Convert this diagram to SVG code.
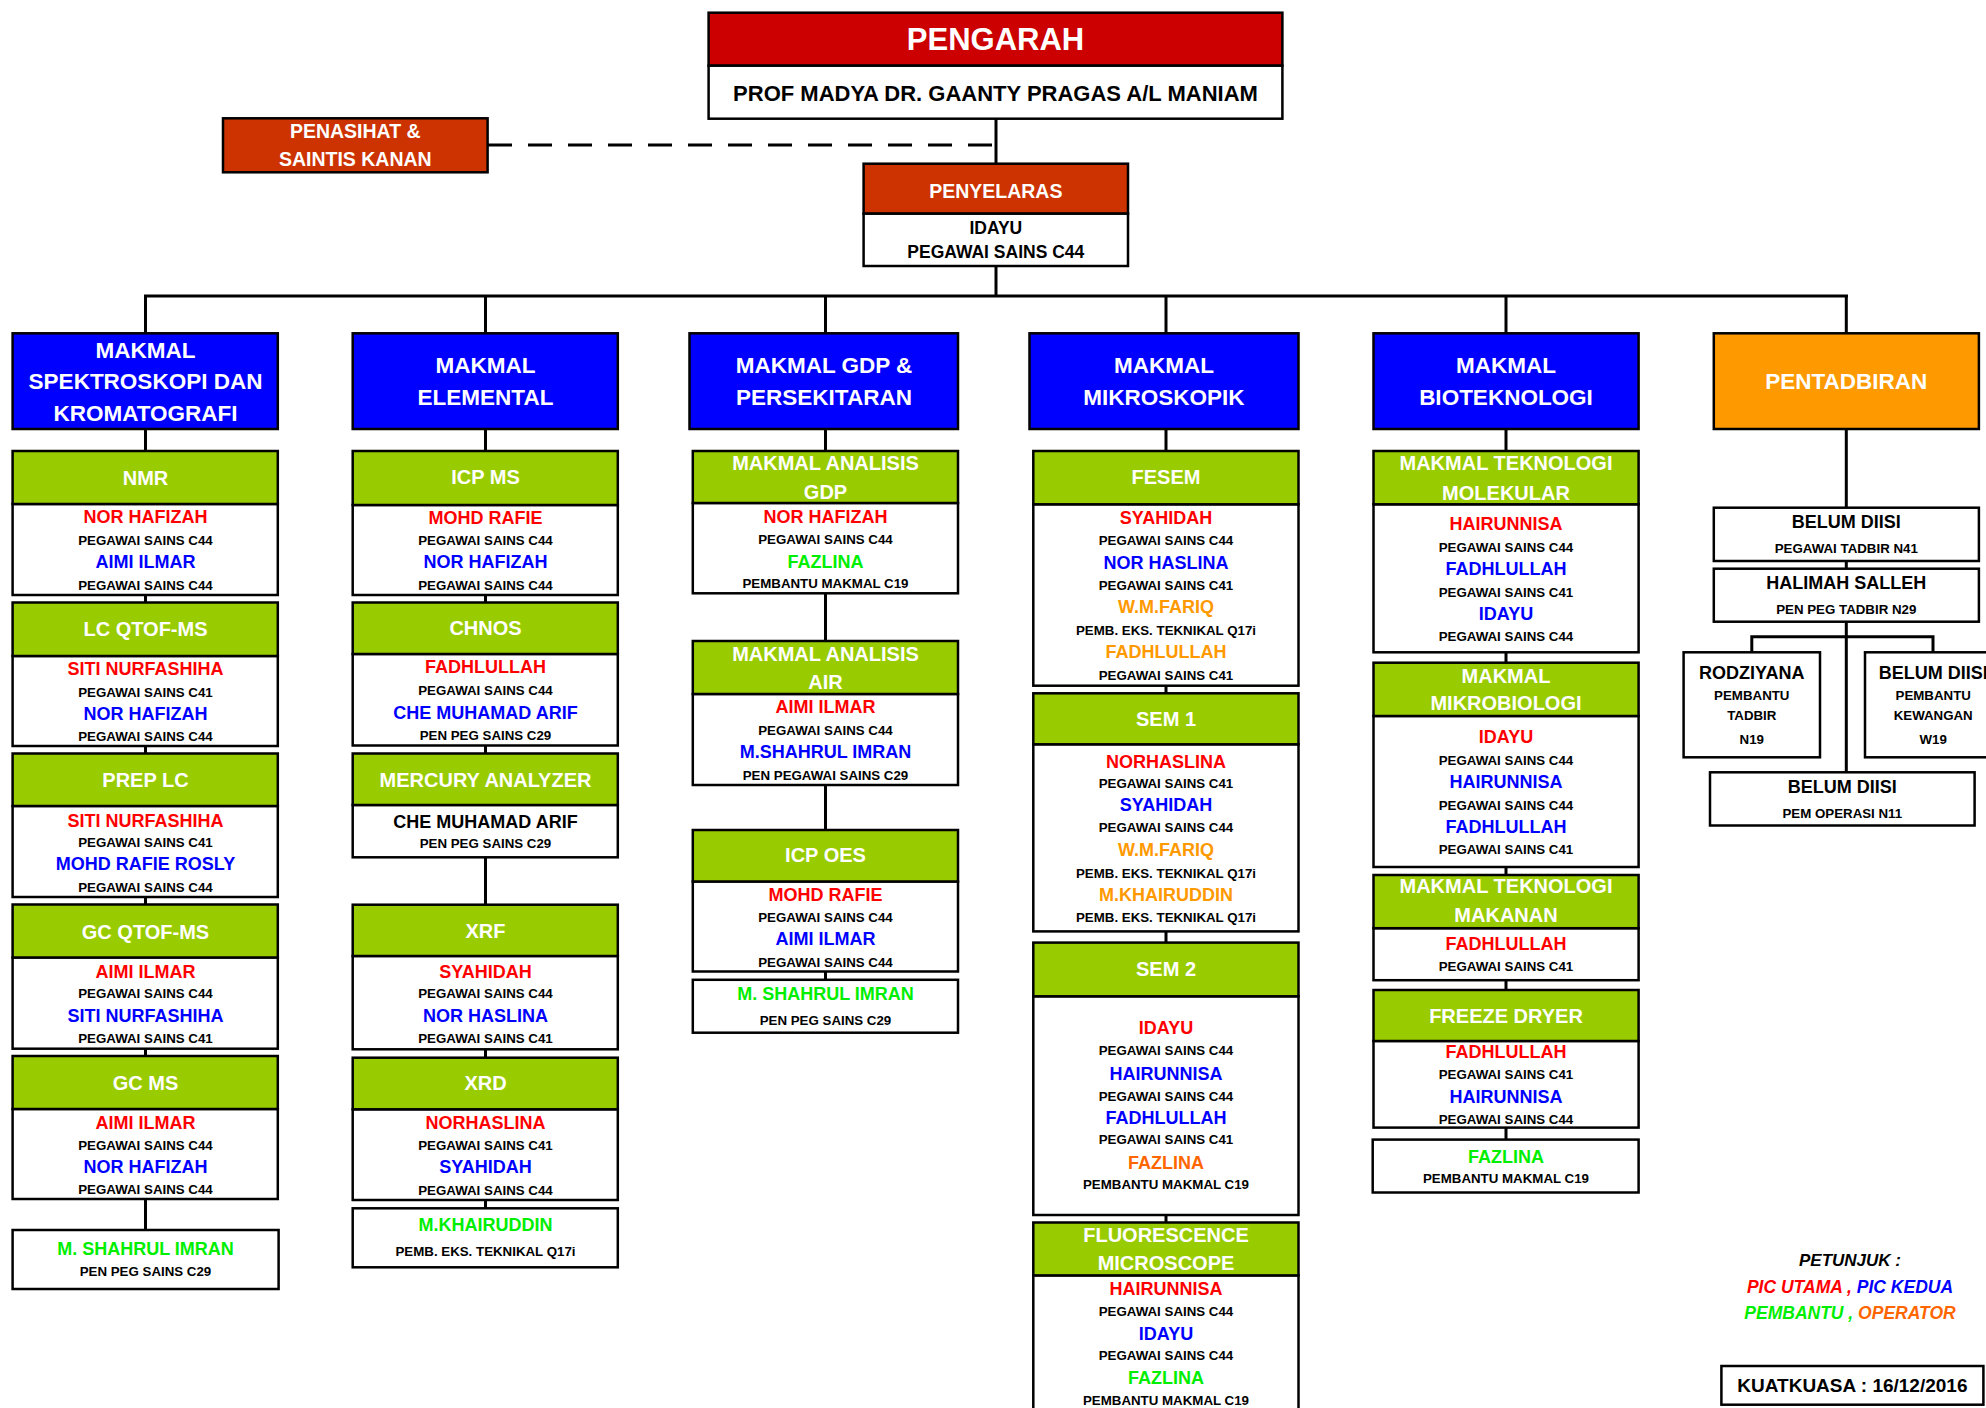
<svg xmlns="http://www.w3.org/2000/svg" width="1986" height="1408" viewBox="0 0 1986 1408">
<style>
text{font-family:"Liberation Sans",Arial,sans-serif;font-weight:bold;text-anchor:middle;dominant-baseline:central}
.bx{fill:#fff;stroke:#000;stroke-width:2.5}
.gr{fill:#99CC00;stroke:#000;stroke-width:2.5}
.bl{fill:#0000FF;stroke:#000;stroke-width:2.5}
.rd{fill:#CC0000;stroke:#000;stroke-width:2.5}
.rr{fill:#CC3300;stroke:#000;stroke-width:2.5}
.or{fill:#FF9900;stroke:#000;stroke-width:2.5}
.h{font-size:20px;fill:#fff}
.H{font-size:22.5px;fill:#fff}
.n{font-size:18px}
.s{font-size:13.3px;fill:#000}
.r{fill:#FF0000}.b{fill:#0000FF}.g{fill:#00EE00}.o{fill:#FF9900}.o2{fill:#FF6600}.k{fill:#000}
.ln{stroke:#000;stroke-width:3;fill:none}
</style>
<g id="connectors">
<line class="ln" x1="996" y1="119" x2="996" y2="296"/>
<line class="ln" x1="488" y1="145" x2="996" y2="145" stroke-dasharray="24 16" stroke-width="3.5"/>
<line class="ln" x1="144" y1="296" x2="1848" y2="296" stroke-width="3.5"/>
<line class="ln" x1="145.5" y1="296" x2="145.5" y2="1230"/>
<line class="ln" x1="485.5" y1="296" x2="485.5" y2="1208"/>
<line class="ln" x1="825.5" y1="296" x2="825.5" y2="980"/>
<line class="ln" x1="1166" y1="296" x2="1166" y2="1222"/>
<line class="ln" x1="1506" y1="296" x2="1506" y2="1140"/>
<line class="ln" x1="1846.3" y1="296" x2="1846.3" y2="772"/>
<polyline class="ln" points="1751.8,652 1751.8,636.7 1933,636.7 1933,652"/>
</g>
<g id="pengarah">
<rect class="rd" x="708.6" y="12.7" width="573.8" height="53"/>
<rect class="bx" x="708.6" y="65.7" width="573.8" height="53"/>
<text x="995.5" y="39.3" style="font-size:31px;fill:#fff">PENGARAH</text>
<text x="995.5" y="93.3" style="font-size:22px">PROF MADYA DR. GAANTY PRAGAS A/L MANIAM</text>
</g>
<g id="penasihat">
<rect class="rr" x="223" y="118.3" width="264.6" height="54"/>
<text x="355.3" y="130.7" style="font-size:19.5px;fill:#fff">PENASIHAT &amp;</text>
<text x="355.3" y="159.3" style="font-size:19.5px;fill:#fff">SAINTIS KANAN</text>
</g>
<g id="penyelaras">
<rect class="rr" x="863.6" y="163.7" width="264.4" height="50"/>
<rect class="bx" x="863.6" y="213.7" width="264.4" height="52.3"/>
<text x="995.8" y="190.7" style="font-size:19.5px;fill:#fff">PENYELARAS</text>
<text x="995.8" y="227.7" style="font-size:17.5px">IDAYU</text>
<text x="995.8" y="252.3" style="font-size:17.5px">PEGAWAI SAINS C44</text>
</g>
<!-- Column 1 -->
<g id="makmal-spektroskopi">
<rect class="bl" x="12.6" y="333.3" width="265.2" height="95.7"/>
<text class="H" x="145.5" y="350">MAKMAL</text>
<text class="H" x="145.5" y="381.7">SPEKTROSKOPI DAN</text>
<text class="H" x="145.5" y="413.3">KROMATOGRAFI</text>
</g>
<g id="nmr">
<rect class="bx" x="12.6" y="504" width="265.2" height="91"/>
<rect class="gr" x="12.6" y="451" width="265.2" height="53"/>
<text class="h" x="145.5" y="477.5">NMR</text>
<text class="n r" x="145.5" y="517.3">NOR HAFIZAH</text>
<text class="s" x="145.5" y="540">PEGAWAI SAINS C44</text>
<text class="n b" x="145.5" y="562.3">AIMI ILMAR</text>
<text class="s" x="145.5" y="585">PEGAWAI SAINS C44</text>
</g>
<g id="lc-qtof-ms">
<rect class="bx" x="12.6" y="656" width="265.2" height="90"/>
<rect class="gr" x="12.6" y="602.5" width="265.2" height="53.5"/>
<text class="h" x="145.5" y="629.3">LC QTOF-MS</text>
<text class="n r" x="145.5" y="669.3">SITI NURFASHIHA</text>
<text class="s" x="145.5" y="692">PEGAWAI SAINS C41</text>
<text class="n b" x="145.5" y="714.3">NOR HAFIZAH</text>
<text class="s" x="145.5" y="736.7">PEGAWAI SAINS C44</text>
</g>
<g id="prep-lc">
<rect class="bx" x="12.6" y="806" width="265.2" height="91"/>
<rect class="gr" x="12.6" y="753.5" width="265.2" height="52.5"/>
<text class="h" x="145.5" y="780">PREP LC</text>
<text class="n r" x="145.5" y="820.7">SITI NURFASHIHA</text>
<text class="s" x="145.5" y="842">PEGAWAI SAINS C41</text>
<text class="n b" x="145.5" y="864.3">MOHD RAFIE ROSLY</text>
<text class="s" x="145.5" y="887">PEGAWAI SAINS C44</text>
</g>
<g id="gc-qtof-ms">
<rect class="bx" x="12.6" y="957.5" width="265.2" height="91.2"/>
<rect class="gr" x="12.6" y="904.5" width="265.2" height="53"/>
<text class="h" x="145.5" y="931.7">GC QTOF-MS</text>
<text class="n r" x="145.5" y="971.7">AIMI ILMAR</text>
<text class="s" x="145.5" y="993.7">PEGAWAI SAINS C44</text>
<text class="n b" x="145.5" y="1016">SITI NURFASHIHA</text>
<text class="s" x="145.5" y="1038">PEGAWAI SAINS C41</text>
</g>
<g id="gc-ms">
<rect class="bx" x="12.6" y="1109" width="265.2" height="90"/>
<rect class="gr" x="12.6" y="1056" width="265.2" height="53"/>
<text class="h" x="145.5" y="1082.7">GC MS</text>
<text class="n r" x="145.5" y="1122.7">AIMI ILMAR</text>
<text class="s" x="145.5" y="1145">PEGAWAI SAINS C44</text>
<text class="n b" x="145.5" y="1167.3">NOR HAFIZAH</text>
<text class="s" x="145.5" y="1189.3">PEGAWAI SAINS C44</text>
</g>
<g id="shahrul-1">
<rect class="bx" x="12.6" y="1230" width="266" height="59"/>
<text class="n g" x="145.5" y="1249.3">M. SHAHRUL IMRAN</text>
<text class="s" x="145.5" y="1271.7">PEN PEG SAINS C29</text>
</g>
<!-- Column 2 -->
<g id="makmal-elemental">
<rect class="bl" x="352.7" y="333.3" width="265.1" height="95.7"/>
<text class="H" x="485.5" y="365.7">MAKMAL</text>
<text class="H" x="485.5" y="397.7">ELEMENTAL</text>
</g>
<g id="icp-ms">
<rect class="bx" x="352.7" y="505" width="265.1" height="90"/>
<rect class="gr" x="352.7" y="451" width="265.1" height="54"/>
<text class="h" x="485.5" y="477.3">ICP MS</text>
<text class="n r" x="485.5" y="518.3">MOHD RAFIE</text>
<text class="s" x="485.5" y="540">PEGAWAI SAINS C44</text>
<text class="n b" x="485.5" y="562.3">NOR HAFIZAH</text>
<text class="s" x="485.5" y="585">PEGAWAI SAINS C44</text>
</g>
<g id="chnos">
<rect class="bx" x="352.7" y="654" width="265.1" height="91.5"/>
<rect class="gr" x="352.7" y="602.5" width="265.1" height="51.5"/>
<text class="h" x="485.5" y="628.3">CHNOS</text>
<text class="n r" x="485.5" y="667.3">FADHLULLAH</text>
<text class="s" x="485.5" y="690">PEGAWAI SAINS C44</text>
<text class="n b" x="485.5" y="712.7">CHE MUHAMAD ARIF</text>
<text class="s" x="485.5" y="735">PEN PEG SAINS C29</text>
</g>
<g id="mercury-analyzer">
<rect class="bx" x="352.7" y="805" width="265.1" height="52.3"/>
<rect class="gr" x="352.7" y="753.5" width="265.1" height="51.5"/>
<text class="h" x="485.5" y="780">MERCURY ANALYZER</text>
<text class="n k" x="485.5" y="821.7">CHE MUHAMAD ARIF</text>
<text class="s" x="485.5" y="843.7">PEN PEG SAINS C29</text>
</g>
<g id="xrf">
<rect class="bx" x="352.7" y="956" width="265.1" height="93.3"/>
<rect class="gr" x="352.7" y="904.7" width="265.1" height="51.3"/>
<text class="h" x="485.5" y="930.7">XRF</text>
<text class="n r" x="485.5" y="971.7">SYAHIDAH</text>
<text class="s" x="485.5" y="993.7">PEGAWAI SAINS C44</text>
<text class="n b" x="485.5" y="1016">NOR HASLINA</text>
<text class="s" x="485.5" y="1038">PEGAWAI SAINS C41</text>
</g>
<g id="xrd">
<rect class="bx" x="352.7" y="1109.3" width="265.1" height="90.7"/>
<rect class="gr" x="352.7" y="1057.7" width="265.1" height="51.6"/>
<text class="h" x="485.5" y="1083.3">XRD</text>
<text class="n r" x="485.5" y="1122.7">NORHASLINA</text>
<text class="s" x="485.5" y="1145">PEGAWAI SAINS C41</text>
<text class="n b" x="485.5" y="1167.3">SYAHIDAH</text>
<text class="s" x="485.5" y="1190">PEGAWAI SAINS C44</text>
</g>
<g id="khairuddin-1">
<rect class="bx" x="352.7" y="1208.3" width="265.1" height="59"/>
<text class="n g" x="485.5" y="1225">M.KHAIRUDDIN</text>
<text class="s" x="485.5" y="1251.7">PEMB. EKS. TEKNIKAL Q17i</text>
</g>
<!-- Column 3 -->
<g id="makmal-gdp">
<rect class="bl" x="689.5" y="333.3" width="268.5" height="95.7"/>
<text class="H" x="824" y="365.7">MAKMAL GDP &amp;</text>
<text class="H" x="824" y="397.7">PERSEKITARAN</text>
</g>
<g id="analisis-gdp">
<rect class="bx" x="692.8" y="503" width="265.2" height="90.3"/>
<rect class="gr" x="692.8" y="451" width="265.2" height="52"/>
<text class="h" x="825.5" y="463.3">MAKMAL ANALISIS</text>
<text class="h" x="825.5" y="491.7">GDP</text>
<text class="n r" x="825.5" y="516.7">NOR HAFIZAH</text>
<text class="s" x="825.5" y="539">PEGAWAI SAINS C44</text>
<text class="n g" x="825.5" y="561.7">FAZLINA</text>
<text class="s" x="825.5" y="583.3">PEMBANTU MAKMAL C19</text>
</g>
<g id="analisis-air">
<rect class="bx" x="692.8" y="694" width="265.2" height="91"/>
<rect class="gr" x="692.8" y="641" width="265.2" height="53"/>
<text class="h" x="825.5" y="654">MAKMAL ANALISIS</text>
<text class="h" x="825.5" y="681.7">AIR</text>
<text class="n r" x="825.5" y="707.3">AIMI ILMAR</text>
<text class="s" x="825.5" y="730">PEGAWAI SAINS C44</text>
<text class="n b" x="825.5" y="752.3">M.SHAHRUL IMRAN</text>
<text class="s" x="825.5" y="775">PEN PEGAWAI SAINS C29</text>
</g>
<g id="icp-oes">
<rect class="bx" x="692.8" y="881.5" width="265.2" height="90"/>
<rect class="gr" x="692.8" y="830" width="265.2" height="51.5"/>
<text class="h" x="825.5" y="855.3">ICP OES</text>
<text class="n r" x="825.5" y="895">MOHD RAFIE</text>
<text class="s" x="825.5" y="917">PEGAWAI SAINS C44</text>
<text class="n b" x="825.5" y="939.4">AIMI ILMAR</text>
<text class="s" x="825.5" y="962.2">PEGAWAI SAINS C44</text>
</g>
<g id="shahrul-3">
<rect class="bx" x="692.8" y="979.8" width="265.2" height="52.9"/>
<text class="n g" x="825.5" y="993.5">M. SHAHRUL IMRAN</text>
<text class="s" x="825.5" y="1020.7">PEN PEG SAINS C29</text>
</g>
<!-- Column 4 -->
<g id="makmal-mikroskopik">
<rect class="bl" x="1029.5" y="333.3" width="269" height="95.7"/>
<text class="H" x="1164" y="365.7">MAKMAL</text>
<text class="H" x="1164" y="397.7">MIKROSKOPIK</text>
</g>
<g id="fesem">
<rect class="bx" x="1033.3" y="504.3" width="265.2" height="181.4"/>
<rect class="gr" x="1033.3" y="451" width="265.2" height="53.3"/>
<text class="h" x="1166" y="477.3">FESEM</text>
<text class="n r" x="1166" y="518.3">SYAHIDAH</text>
<text class="s" x="1166" y="540.7">PEGAWAI SAINS C44</text>
<text class="n b" x="1166" y="563.3">NOR HASLINA</text>
<text class="s" x="1166" y="585">PEGAWAI SAINS C41</text>
<text class="n o" x="1166" y="607.3">W.M.FARIQ</text>
<text class="s" x="1166" y="630">PEMB. EKS. TEKNIKAL Q17i</text>
<text class="n o" x="1166" y="652.3">FADHLULLAH</text>
<text class="s" x="1166" y="675">PEGAWAI SAINS C41</text>
</g>
<g id="sem-1">
<rect class="bx" x="1033.3" y="744.3" width="265.2" height="187.1"/>
<rect class="gr" x="1033.3" y="693.3" width="265.2" height="51"/>
<text class="h" x="1166" y="719">SEM 1</text>
<text class="n r" x="1166" y="761.7">NORHASLINA</text>
<text class="s" x="1166" y="783.3">PEGAWAI SAINS C41</text>
<text class="n b" x="1166" y="805">SYAHIDAH</text>
<text class="s" x="1166" y="827.7">PEGAWAI SAINS C44</text>
<text class="n o" x="1166" y="850">W.M.FARIQ</text>
<text class="s" x="1166" y="873">PEMB. EKS. TEKNIKAL Q17i</text>
<text class="n o" x="1166" y="895.3">M.KHAIRUDDIN</text>
<text class="s" x="1166" y="917.8">PEMB. EKS. TEKNIKAL Q17i</text>
</g>
<g id="sem-2">
<rect class="bx" x="1033.3" y="996.3" width="265.2" height="218.7"/>
<rect class="gr" x="1033.3" y="942.6" width="265.2" height="53.7"/>
<text class="h" x="1166" y="969.4">SEM 2</text>
<text class="n r" x="1166" y="1028.3">IDAYU</text>
<text class="s" x="1166" y="1050.7">PEGAWAI SAINS C44</text>
<text class="n b" x="1166" y="1073.5">HAIRUNNISA</text>
<text class="s" x="1166" y="1096">PEGAWAI SAINS C44</text>
<text class="n b" x="1166" y="1118.4">FADHLULLAH</text>
<text class="s" x="1166" y="1139.6">PEGAWAI SAINS C41</text>
<text class="n o2" x="1166" y="1162.5">FAZLINA</text>
<text class="s" x="1166" y="1184.9">PEMBANTU MAKMAL C19</text>
</g>
<g id="fluorescence-microscope">
<rect class="bx" x="1033.3" y="1275.4" width="265.2" height="140"/>
<rect class="gr" x="1033.3" y="1222.5" width="265.2" height="52.9"/>
<text class="h" x="1166" y="1234.5">FLUORESCENCE</text>
<text class="h" x="1166" y="1263.4">MICROSCOPE</text>
<text class="n r" x="1166" y="1289.4">HAIRUNNISA</text>
<text class="s" x="1166" y="1311">PEGAWAI SAINS C44</text>
<text class="n b" x="1166" y="1333.5">IDAYU</text>
<text class="s" x="1166" y="1355.9">PEGAWAI SAINS C44</text>
<text class="n g" x="1166" y="1378.3">FAZLINA</text>
<text class="s" x="1166" y="1400.7">PEMBANTU MAKMAL C19</text>
</g>
<!-- Column 5 -->
<g id="makmal-bioteknologi">
<rect class="bl" x="1373.5" y="333.3" width="265.1" height="95.7"/>
<text class="H" x="1506" y="365.7">MAKMAL</text>
<text class="H" x="1506" y="397.7">BIOTEKNOLOGI</text>
</g>
<g id="teknologi-molekular">
<rect class="bx" x="1373.5" y="504.3" width="265.1" height="148"/>
<rect class="gr" x="1373.5" y="451" width="265.1" height="53.3"/>
<text class="h" x="1506" y="463.3">MAKMAL TEKNOLOGI</text>
<text class="h" x="1506" y="492.7">MOLEKULAR</text>
<text class="n r" x="1506" y="524">HAIRUNNISA</text>
<text class="s" x="1506" y="547">PEGAWAI SAINS C44</text>
<text class="n b" x="1506" y="569.3">FADHLULLAH</text>
<text class="s" x="1506" y="592">PEGAWAI SAINS C41</text>
<text class="n b" x="1506" y="614">IDAYU</text>
<text class="s" x="1506" y="636">PEGAWAI SAINS C44</text>
</g>
<g id="mikrobiologi">
<rect class="bx" x="1373.5" y="716" width="265.1" height="151"/>
<rect class="gr" x="1373.5" y="662.7" width="265.1" height="53.3"/>
<text class="h" x="1506" y="675.7">MAKMAL</text>
<text class="h" x="1506" y="703.3">MIKROBIOLOGI</text>
<text class="n r" x="1506" y="737.3">IDAYU</text>
<text class="s" x="1506" y="760">PEGAWAI SAINS C44</text>
<text class="n b" x="1506" y="782.3">HAIRUNNISA</text>
<text class="s" x="1506" y="805">PEGAWAI SAINS C44</text>
<text class="n b" x="1506" y="827.3">FADHLULLAH</text>
<text class="s" x="1506" y="849">PEGAWAI SAINS C41</text>
</g>
<g id="teknologi-makanan">
<rect class="bx" x="1373.5" y="928.2" width="265.1" height="52"/>
<rect class="gr" x="1373.5" y="875" width="265.1" height="53.2"/>
<text class="h" x="1506" y="886.1">MAKMAL TEKNOLOGI</text>
<text class="h" x="1506" y="915.4">MAKANAN</text>
<text class="n r" x="1506" y="944.2">FADHLULLAH</text>
<text class="s" x="1506" y="966.6">PEGAWAI SAINS C41</text>
</g>
<g id="freeze-dryer">
<rect class="bx" x="1373.5" y="1041" width="265.1" height="86.6"/>
<rect class="gr" x="1373.5" y="990" width="265.1" height="51"/>
<text class="h" x="1506" y="1015.5">FREEZE DRYER</text>
<text class="n r" x="1506" y="1052.3">FADHLULLAH</text>
<text class="s" x="1506" y="1074.8">PEGAWAI SAINS C41</text>
<text class="n b" x="1506" y="1097.2">HAIRUNNISA</text>
<text class="s" x="1506" y="1119.6">PEGAWAI SAINS C44</text>
</g>
<g id="fazlina-5">
<rect class="bx" x="1372.7" y="1139.6" width="265.9" height="52.9"/>
<text class="n g" x="1506" y="1156.5">FAZLINA</text>
<text class="s" x="1506" y="1178.9">PEMBANTU MAKMAL C19</text>
</g>
<!-- Column 6 -->
<g id="pentadbiran">
<rect class="or" x="1713.8" y="333.3" width="265.1" height="95.7"/>
<text class="H" x="1846.3" y="381.7">PENTADBIRAN</text>
</g>
<g id="belum-diisi-n41">
<rect class="bx" x="1713.8" y="507.7" width="265.1" height="53.3"/>
<text class="n k" x="1846.3" y="521.7">BELUM DIISI</text>
<text class="s" x="1846.3" y="548.3">PEGAWAI TADBIR N41</text>
</g>
<g id="halimah-salleh">
<rect class="bx" x="1713.8" y="568.7" width="265.1" height="53"/>
<text class="n k" x="1846.3" y="582.7">HALIMAH SALLEH</text>
<text class="s" x="1846.3" y="609">PEN PEG TADBIR N29</text>
</g>
<g id="rodziyana">
<rect class="bx" x="1683.6" y="652.3" width="136.4" height="105"/>
<text class="n k" x="1751.8" y="673.3">RODZIYANA</text>
<text class="s" x="1751.8" y="695.3">PEMBANTU</text>
<text class="s" x="1751.8" y="715">TADBIR</text>
<text class="s" x="1751.8" y="739">N19</text>
</g>
<g id="belum-diisi-w19">
<rect class="bx" x="1865" y="652.3" width="136.4" height="105"/>
<text class="n k" x="1933.2" y="673.3">BELUM DIISI</text>
<text class="s" x="1933.2" y="695.3">PEMBANTU</text>
<text class="s" x="1933.2" y="715">KEWANGAN</text>
<text class="s" x="1933.2" y="739">W19</text>
</g>
<g id="belum-diisi-n11">
<rect class="bx" x="1710" y="772.3" width="264.6" height="53.2"/>
<text class="n k" x="1842.3" y="786.7">BELUM DIISI</text>
<text class="s" x="1842.3" y="813.6">PEM OPERASI N11</text>
</g>
<g id="legend">
<text x="1850" y="1260.6" style="font-size:17px;font-style:italic;fill:#000">PETUNJUK :</text>
<text x="1850" y="1286.6" style="font-size:17.5px;font-style:italic"><tspan fill="#FF0000">PIC UTAMA , </tspan><tspan fill="#0000FF">PIC KEDUA</tspan></text>
<text x="1850" y="1312.6" style="font-size:17.5px;font-style:italic"><tspan fill="#00EE00">PEMBANTU , </tspan><tspan fill="#FF6600">OPERATOR</tspan></text>
</g>
<g id="kuatkuasa">
<rect class="bx" x="1721.4" y="1366" width="262" height="38.7"/>
<text x="1852.4" y="1385.5" style="font-size:19px;fill:#000">KUATKUASA : 16/12/2016</text>
</g>
</svg>
